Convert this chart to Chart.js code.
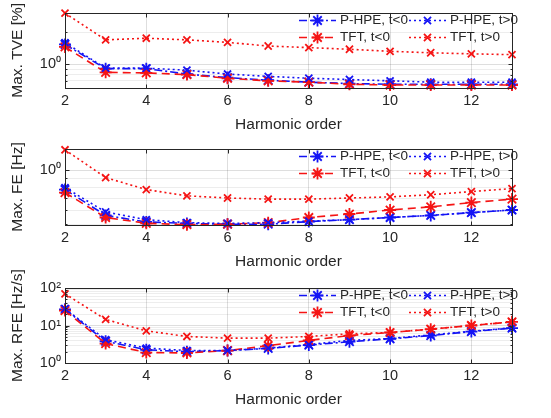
<!doctype html>
<html lang="en">
<head>
<meta charset="UTF-8">
<title>Max. errors vs harmonic order</title>
<script src="https://cdn.jsdelivr.net/npm/chart.js@4.4.1/dist/chart.umd.min.js"></script>
<style>
  body { margin: 0; background: #fff; }
  #wrap { position: relative; width: 551px; height: 418px; }
  #wrap canvas { position: absolute; left: 0; }
</style>
</head>
<body>
<div id="wrap">
  <canvas id="tve" width="551" height="138" style="top:0"></canvas>
  <canvas id="fe" width="551" height="146" style="top:130px"></canvas>
  <canvas id="rfe" width="551" height="156" style="top:262px"></canvas>
</div>
<script>
const harmonics = [2, 3, 4, 5, 6, 7, 8, 9, 10, 11, 12, 13];
const seriesLabels = ['P-HPE, t<0', 'TFT, t<0', 'P-HPE, t>0', 'TFT, t>0'];

// max. total vector error [%]
const tveHpeNeg = [1.53, 0.91, 0.91, 0.81, 0.75, 0.71, 0.68, 0.66, 0.65, 0.65, 0.65, 0.65];
const tveTftNeg = [1.45, 0.84, 0.83, 0.80, 0.74, 0.70, 0.68, 0.65, 0.64, 0.64, 0.64, 0.64];
const tveHpePos = [1.59, 0.92, 0.92, 0.88, 0.81, 0.77, 0.74, 0.72, 0.70, 0.68, 0.68, 0.68];
const tveTftPos = [3.0, 1.69, 1.75, 1.69, 1.60, 1.48, 1.43, 1.38, 1.32, 1.28, 1.25, 1.23];

// max. frequency error [Hz]
const feHpeNeg = [0.78, 0.56, 0.515, 0.505, 0.50, 0.50, 0.517, 0.53, 0.545, 0.56, 0.58, 0.60];
const feTftNeg = [0.75, 0.545, 0.506, 0.497, 0.50, 0.51, 0.545, 0.57, 0.60, 0.625, 0.66, 0.69];
const feHpePos = [0.80, 0.585, 0.53, 0.51, 0.505, 0.51, 0.52, 0.53, 0.545, 0.56, 0.58, 0.60];
const feTftPos = [1.30, 0.91, 0.78, 0.72, 0.70, 0.69, 0.69, 0.70, 0.71, 0.73, 0.76, 0.79];

// max. ROCOF error [Hz/s]
const rfeHpeNeg = [27, 3.8, 2.25, 2.0, 2.15, 2.45, 3.0, 3.7, 4.4, 5.4, 6.9, 8.5];
const rfeTftNeg = [25, 3.3, 1.9, 1.85, 2.15, 2.9, 4.0, 5.4, 6.5, 8.0, 10.0, 12.5];
const rfeHpePos = [28, 4.2, 2.5, 2.15, 2.15, 2.5, 3.1, 4.0, 4.5, 5.6, 7.0, 8.7];
const rfeTftPos = [70, 14.5, 7.2, 5.1, 4.6, 4.6, 5.1, 6.0, 6.5, 8.0, 10.0, 12.5];

const xTitle = 'Harmonic order';
const yTitles = ['Max. TVE [%]', 'Max. FE [Hz]', 'Max. RFE [Hz/s]'];

const BLUE = '#1414f5';
const RED = '#f51414';
const INK = '#262626';
const FONT = "'Liberation Sans', Arial, Helvetica, sans-serif";

// line / marker style per series, same order as seriesLabels
const styles = [
  { color: BLUE, dash: [8, 3, 2, 3], point: 'star', r: 6, order: 4 },
  { color: RED, dash: [8, 5], point: 'star', r: 6, order: 3 },
  { color: BLUE, dash: [2, 3], point: 'crossRot', r: 5, order: 2 },
  { color: RED, dash: [2, 3], point: 'crossRot', r: 5, order: 1 }
];

const SUP = { '-1': '⁻¹', '0': '⁰', '1': '¹', '2': '²', '3': '³' };

// 1..9 x 10^n ticks inside [min, max]
function logTicks(min, max) {
  const out = [];
  for (let e = Math.floor(Math.log10(min)); e <= Math.ceil(Math.log10(max)); e++) {
    for (let m = 1; m < 10; m++) {
      const v = +(m * Math.pow(10, e)).toPrecision(6);
      if (v >= min * 0.9999 && v <= max * 1.0001) out.push({ value: v, major: m === 1 });
    }
  }
  return out;
}

// box with inward ticks, rotated y label and a two-column legend
const framePlugin = {
  id: 'frame',
  afterDraw(chart, args, opts) {
    const { ctx, chartArea: a, scales } = chart;
    const L = Math.round(a.left) + 0.5, R = Math.round(a.right) + 0.5;
    const T = Math.round(a.top) + 0.5, B = Math.round(a.bottom) + 0.5;
    ctx.save();
    ctx.strokeStyle = INK;
    ctx.lineWidth = 1;
    ctx.strokeRect(L, T, R - L, B - T);

    ctx.beginPath();
    scales.x.ticks.forEach(t => {
      const x = Math.round(scales.x.getPixelForValue(t.value)) + 0.5;
      ctx.moveTo(x, B); ctx.lineTo(x, B - 4);
      ctx.moveTo(x, T); ctx.lineTo(x, T + 4);
    });
    scales.y.ticks.forEach(t => {
      const y = Math.round(scales.y.getPixelForValue(t.value)) + 0.5;
      const len = t.major ? 4 : 2;
      ctx.moveTo(L, y); ctx.lineTo(L + len, y);
      ctx.moveTo(R, y); ctx.lineTo(R - len, y);
    });
    ctx.stroke();

    ctx.save();
    ctx.translate(18, (a.top + a.bottom) / 2);
    ctx.rotate(-Math.PI / 2);
    ctx.fillStyle = INK;
    ctx.font = '15.5px ' + FONT;
    ctx.textAlign = 'center';
    ctx.textBaseline = 'middle';
    ctx.fillText(opts.yTitle, 0, 0);
    ctx.restore();

    const cols = [{ x0: 299, x1: 336, tx: 340 }, { x0: 409, x1: 446, tx: 450 }];
    chart.data.datasets.forEach((ds, i) => {
      const c = cols[Math.floor(i / 2)];
      const y = Math.round(a.top) + 7.5 + (i % 2) * 17;
      ctx.strokeStyle = ds.borderColor;
      ctx.lineWidth = ds.borderWidth;
      ctx.setLineDash(ds.borderDash);
      ctx.beginPath();
      ctx.moveTo(c.x0, y);
      ctx.lineTo(c.x1, y);
      ctx.stroke();
      ctx.setLineDash([]);
      ctx.lineWidth = ds.pointBorderWidth;
      Chart.helpers.drawPoint(ctx, {
        pointStyle: ds.pointStyle, radius: ds.pointRadius,
        borderWidth: ds.pointBorderWidth, rotation: 0
      }, (c.x0 + c.x1) / 2, y);
      ctx.fillStyle = INK;
      ctx.font = '13.5px ' + FONT;
      ctx.textBaseline = 'middle';
      ctx.textAlign = 'left';
      ctx.fillText(ds.label, c.tx, y);
    });
    ctx.restore();
  }
};

function makeChart(id, series, yTitle, yMin, yMax, padTop, padBottom) {
  const datasets = series.map((vals, i) => {
    const s = styles[i];
    return {
      label: seriesLabels[i],
      data: harmonics.map((h, k) => ({ x: h, y: vals[k] })),
      borderColor: s.color,
      backgroundColor: s.color,
      borderWidth: 1.6,
      borderDash: s.dash,
      pointStyle: s.point,
      pointRadius: s.r,
      pointBorderWidth: 1.8,
      pointBorderColor: s.color,
      order: s.order,
      clip: false,
      tension: 0
    };
  });

  return new Chart(document.getElementById(id), {
    type: 'line',
    data: { datasets },
    plugins: [framePlugin],
    options: {
      responsive: false,
      animation: false,
      devicePixelRatio: 1,
      layout: { padding: { top: padTop, right: 39, left: 0, bottom: padBottom } },
      plugins: {
        legend: { display: false },
        tooltip: { enabled: false },
        frame: { yTitle }
      },
      scales: {
        x: {
          type: 'linear',
          min: 2,
          max: 13,
          afterFit: s => { s.height = 46; },
          ticks: { stepSize: 2, includeBounds: false, padding: 4, color: INK, font: { family: FONT, size: 14.5 } },
          grid: { drawTicks: false, color: 'rgba(0,0,0,0.13)' },
          border: { display: false },
          title: { display: true, text: xTitle, color: INK, padding: 0, font: { family: FONT, size: 15.5 } }
        },
        y: {
          type: 'logarithmic',
          min: yMin,
          max: yMax,
          afterBuildTicks: s => { s.ticks = logTicks(yMin, yMax); },
          afterFit: s => { s.width = 65; },
          ticks: {
            autoSkip: false,
            padding: 4,
            color: INK,
            font: { family: FONT, size: 14.5 },
            callback: v => {
              const e = Math.log10(v);
              return Math.abs(e - Math.round(e)) < 1e-6 ? '10' + SUP[Math.round(e)] : '';
            }
          },
          grid: {
            drawTicks: false,
            color: c => (c.tick && c.tick.major) ? 'rgba(0,0,0,0.13)' : 'rgba(0,0,0,0.07)'
          },
          border: { display: false }
        }
      }
    }
  });
}

makeChart('tve', [tveHpeNeg, tveTftNeg, tveHpePos, tveTftPos], yTitles[0], 0.61, 3.03, 12, 4);
makeChart('fe', [feHpeNeg, feTftNeg, feHpePos, feTftPos], yTitles[1], 0.495, 1.313, 19, 5);
makeChart('rfe', [rfeHpeNeg, rfeTftNeg, rfeHpePos, rfeTftPos], yTitles[2], 1, 100, 26, 9);
</script>
</body>
</html>
